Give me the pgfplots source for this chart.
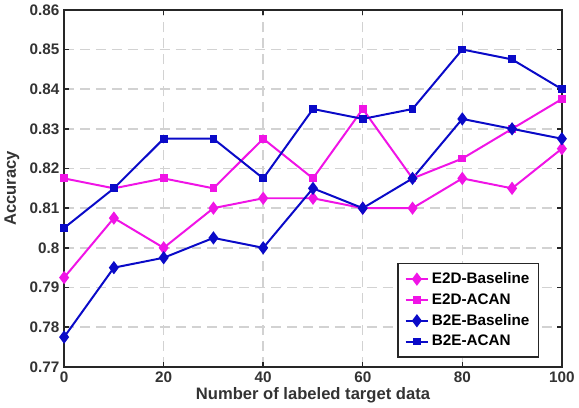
\documentclass[border=0pt]{standalone}
\usepackage{fontspec}
\setmainfont{Liberation Sans}
\usepackage{pgfplots}
\pgfplotsset{compat=1.18}
\definecolor{mag}{RGB}{240,20,230}
\definecolor{dblue}{RGB}{10,10,200}
\begin{document}
\begin{tikzpicture}
\begin{axis}[
  scale only axis,
  width=375pt, height=269pt,
  xmin=0, xmax=100, ymin=0.77, ymax=0.86,
  xtick={0,20,...,100},
  ytick={0.77,0.78,...,0.86},
  yticklabels={0.77,0.78,0.79,0.8,0.81,0.82,0.83,0.84,0.85,0.86},
  /pgf/number format/assume math mode=true,
  tick label style={font=\bfseries\fontsize{11.5pt}{13pt}\selectfont, text=black!80},
  xlabel={Number of labeled target data},
  ylabel={Accuracy},
  label style={font=\bfseries\fontsize{12.5pt}{14pt}\selectfont, text=black!80},
  xlabel style={yshift=3pt},
  ylabel style={yshift=1pt},
  grid=major,
  major grid style={gray!35, dash pattern=on 7.5pt off 4.5pt, line width=1.1pt},
  axis line style={line width=1.3pt, black!85},
  tick style={line width=1.1pt, black!85},
  major tick length=4pt,
  tick align=inside,
  legend style={at={(0.955,0.025)}, anchor=south east, draw=black!85, line width=1.1pt,
    font=\bfseries\fontsize{11.5pt}{12pt}\selectfont, row sep=2pt, inner sep=5pt},
  legend cell align=left,
  every axis plot/.append style={line width=1.5pt},
]
\addplot[mag, mark=diamond*, mark size=3.8pt] coordinates {
(0,0.7925)(10,0.8075)(20,0.800)(30,0.810)(40,0.8125)(50,0.8125)(60,0.810)(70,0.810)(80,0.8175)(90,0.815)(100,0.825)};
\addlegendentry{E2D-Baseline}
\addplot[mag, mark=square*, mark size=2.2pt] coordinates {
(0,0.8175)(10,0.815)(20,0.8175)(30,0.815)(40,0.8275)(50,0.8175)(60,0.835)(70,0.8175)(80,0.8225)(90,0.830)(100,0.8375)};
\addlegendentry{E2D-ACAN}
\addplot[dblue, mark=diamond*, mark size=3.8pt] coordinates {
(0,0.7775)(10,0.795)(20,0.7975)(30,0.8025)(40,0.800)(50,0.815)(60,0.810)(70,0.8175)(80,0.8325)(90,0.830)(100,0.8275)};
\addlegendentry{B2E-Baseline}
\addplot[dblue, mark=square*, mark size=2.2pt] coordinates {
(0,0.805)(10,0.815)(20,0.8275)(30,0.8275)(40,0.8175)(50,0.835)(60,0.8325)(70,0.835)(80,0.850)(90,0.8475)(100,0.840)};
\addlegendentry{B2E-ACAN}
\end{axis}
\end{tikzpicture}
\end{document}
